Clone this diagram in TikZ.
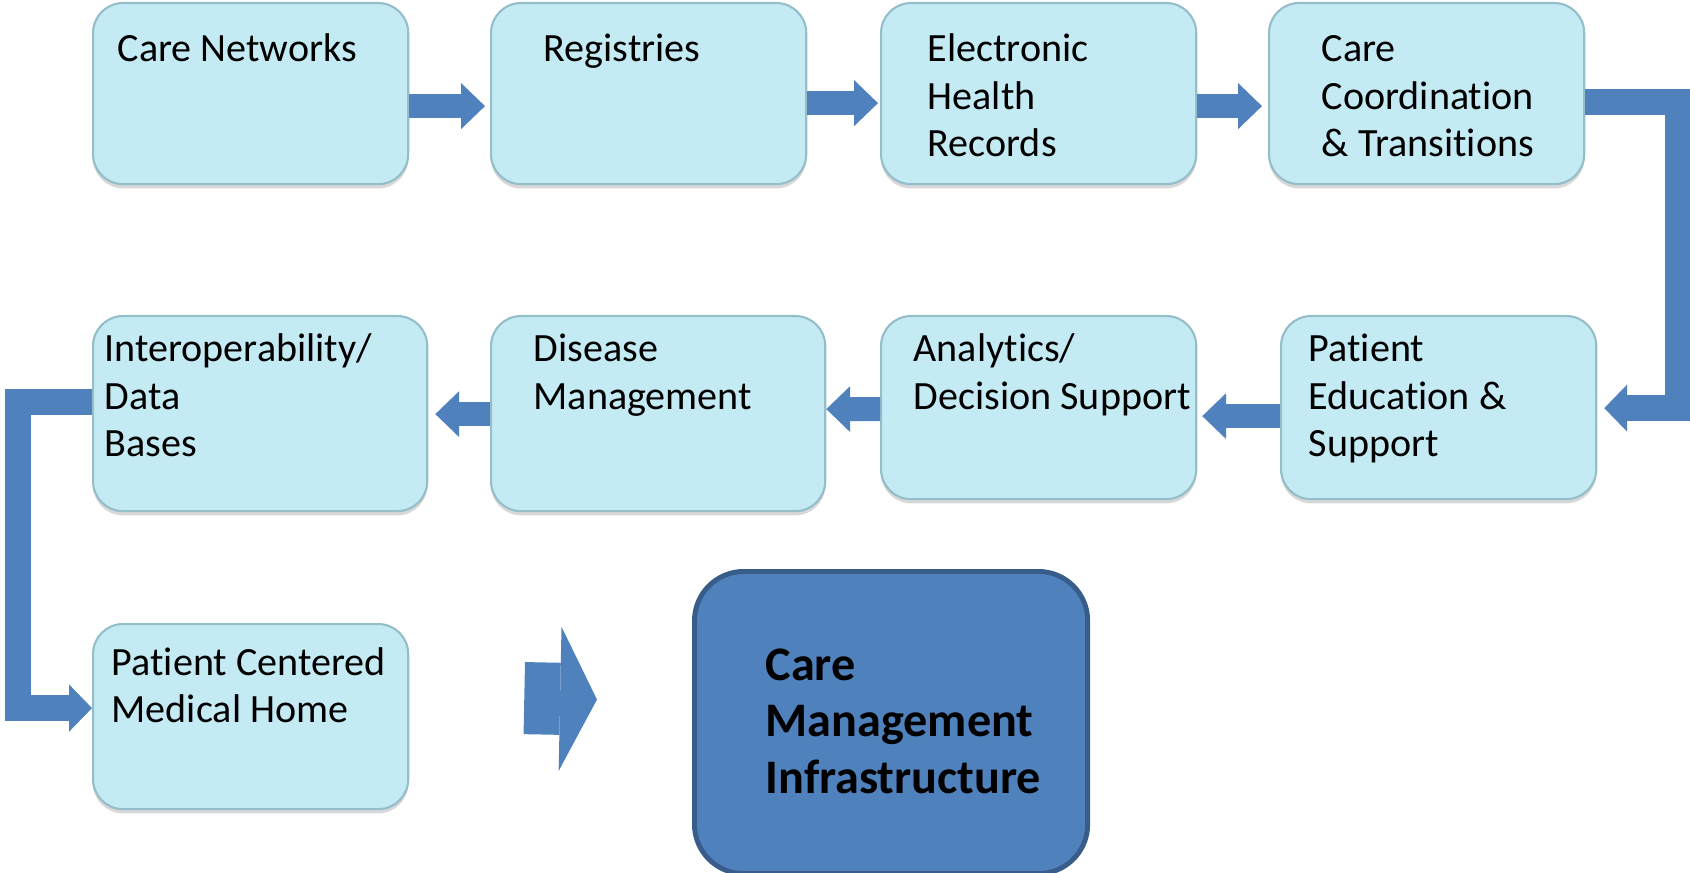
\documentclass[tikz,border=0pt]{standalone}
\usepackage{fontspec}
\setmainfont{Carlito}[Ligatures=NoCommon]
\usetikzlibrary{arrows.meta,calc,shadows}

\definecolor{boxfill}{HTML}{C4EAF4}
\definecolor{boxedge}{HTML}{95BECB}
\definecolor{flowblue}{HTML}{4F81BD}
\definecolor{hubedge}{HTML}{385D8A}

\newcommand{\stacktext}[1]{\begin{tabular}[t]{@{}l@{}}#1\end{tabular}}

\tikzset{
    stage/.style = {draw=boxedge, line width=0.6pt, fill=boxfill, rounded corners=8.5pt,
        anchor=north west, inner sep=0pt, minimum width=3.15cm, minimum height=1.81cm,
        drop shadow={shadow xshift=0pt, shadow yshift=-1.2pt, opacity=.22, fill=black!70}},
    wide/.style = {minimum width=3.34cm, minimum height=1.95cm},
    hub/.style = {draw=hubedge, line width=1.4pt, fill=flowblue, rounded corners=14pt,
        anchor=north west, inner sep=0pt, minimum width=3.93cm, minimum height=3.02cm},
    stagetext/.style = {anchor=base west, inner sep=0pt, font=\fontsize{11.4}{13.5}\selectfont},
    hubtext/.style = {anchor=base west, inner sep=0pt, font=\bfseries\fontsize{13.7}{16.2}\selectfont},
    flow/.style = {draw=flowblue, line width=6.8pt,
        -{Triangle[length=6.8pt, width=13.1pt, line width=0pt]}},
    elbow/.style = {draw=flowblue, line width=7.4pt, line join=miter,
        -{Triangle[length=6.5pt, width=13.4pt, line width=0pt]}},
    bigflow/.style = {draw=flowblue, line width=20.5pt,
        -{Triangle[length=10.5pt, width=41pt, line width=0pt]}}
}

\begin{document}
\begin{tikzpicture}[x=0.01cm, y=-0.01cm]
    \useasboundingbox (0,0) rectangle (1690,873);

    % first row
    \node[stage] (b1) at (92,2) {};
    \node[stage] (b2) at (490,2) {};
    \node[stage] (b3) at (880,2) {};
    \node[stage] (b4) at (1268,2) {};
    % second row, right to left
    \node[stage, minimum height=1.83cm] (b5) at (1280,315) {};
    \node[stage, minimum height=1.83cm] (b6) at (880,315) {};
    \node[stage, wide] (b7) at (490,315) {};
    \node[stage, wide] (b8) at (92,315) {};
    % third row
    \node[stage, minimum height=1.85cm] (b9) at (92,623) {};
    \node[hub] (cmi) at (692,569) {};

    \node[stagetext] (t1) at ($(b1.north west)+(25,60)$) {Care Networks};
    \node[stagetext] (t2) at ($(b2.north west)+(53,60)$) {Registries};
    \node[stagetext] (t3) at ($(b3.north west)+(47,60)$) {\stacktext{Electronic\\Health\\Records}};
    \node[stagetext] (t4) at ($(b4.north west)+(53,60)$) {\stacktext{Care\\Coordination\\\& Transitions}};
    \node[stagetext] (t5) at ($(b5.north west)+(28,47)$) {\stacktext{Patient\\Education \&\\Support}};
    \node[stagetext] (t6) at ($(b6.north west)+(33,47)$) {\stacktext{Analytics/\\Decision Support}};
    \node[stagetext] (t7) at ($(b7.north west)+(43,47)$) {\stacktext{Disease\\Management}};
    \node[stagetext] (t8) at ($(b8.north west)+(12,47)$) {\stacktext{Interoperability/\\Data\\Bases}};
    \node[stagetext] (t9) at ($(b9.north west)+(19,52)$) {\stacktext{Patient Centered\\Medical Home}};
    \node[hubtext] (t10) at ($(cmi.north west)+(73,111)$) {\stacktext{Care\\Management\\Infrastructure}};

    % arrows
    \draw[flow] ($(b1.east)+(0,12.5)$) -- ($(b2.west)+(-5,12.5)$);
    \draw[flow] ($(b2.east)+(0,9.5)$) -- ($(b3.west)+(-2,9.5)$);
    \draw[flow] ($(b3.east)+(0,12.5)$) -- ($(b4.west)+(-6,12.5)$);
    \draw[elbow] ($(b4.east)+(0,8)$) -| ($(b5.east)+(81,0.5)$) -- ($(b5.east)+(7,0.5)$);
    \draw[flow] ($(b5.west)+(0,8.5)$) -- ($(b6.east)+(5,8.5)$);
    \draw[flow] ($(b6.west)+(0,1.5)$) -- ($(b7.east)+(0,-4.5)$);
    \draw[flow] ($(b7.west)+(0,0.5)$) -- ($(b8.east)+(7,0.5)$);
    \draw[elbow] ($(b8.west)+(0,-12)$) -| ($(b9.west)+(-74,-8.5)$) -- ($(b9.west)+(0,-8.5)$);
    \draw[bigflow] ($(b9.east)+(115,-18.5)$) -- ($(cmi.west)+(-95,-23)$);
\end{tikzpicture}
\end{document}
